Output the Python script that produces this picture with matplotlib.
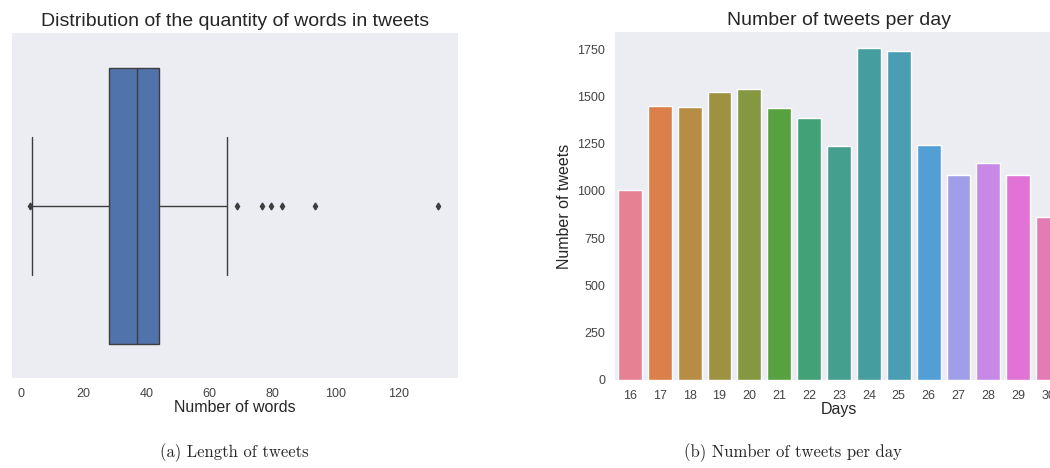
import numpy as np
import matplotlib
matplotlib.use("Agg")
import matplotlib.pyplot as plt
import seaborn as sns

# box plot summary of the number of words per tweet
word_q1 = 28.0
word_median = 36.8
word_q3 = 44.0
word_whislo = 3.4
word_whishi = 65.6
word_fliers = [3.0, 68.7, 76.6, 79.6, 83.0, 93.5, 132.5]

# tweets per day
days = ["16", "17", "18", "19", "20", "21", "22", "23", "24", "25",
        "26", "27", "28", "29", "30"]
tweets_per_day = [1002, 1450, 1441, 1524, 1536, 1439, 1387, 1238, 1753, 1737,
                  1244, 1085, 1150, 1085, 864]

sns.set_style("dark")
plt.rcParams['font.family'] = ['Liberation Sans', 'DejaVu Sans']
plt.rcParams['axes.facecolor'] = '#ececf3'

fig = plt.figure(figsize=(10.5, 4.68), dpi=100)

# left: boxplot
ax1 = fig.add_axes([12/1050., 1-378/468., 446/1050., 345/468.])
stats = [dict(q1=word_q1, med=word_median, q3=word_q3,
              whislo=word_whislo, whishi=word_whishi, fliers=word_fliers)]
blue = sns.desaturate("#4c72b0", 0.9)
ax1.bxp(stats, positions=[0], widths=0.8, vert=False, patch_artist=True,
        capwidths=0.4, showfliers=True,
        boxprops=dict(facecolor=blue, edgecolor='#3d3d3d', linewidth=1),
        medianprops=dict(color='#3d3d3d', linewidth=1),
        whiskerprops=dict(color='#3d3d3d', linewidth=1),
        capprops=dict(color='#3d3d3d', linewidth=1),
        flierprops=dict(marker='d', markersize=3.5, markerfacecolor='#3d3d3d',
                        markeredgecolor='#3d3d3d'))
ax1.set_ylim(0.5, -0.5)
ax1.set_xlim(-2.8, 139)
ax1.set_xticks([0, 20, 40, 60, 80, 100, 120])
ax1.set_yticks([])
ax1.set_xlabel("Number of words", fontsize=11.5, labelpad=0)
ax1.set_title("Distribution of the quantity of words in tweets", fontsize=14, pad=5)
ax1.tick_params(axis='x', labelsize=9, colors='#444444')
for s in ax1.spines.values():
    s.set_visible(False)

# right: bar chart (clipped at figure edge, like the original)
ax2 = fig.add_axes([615/1050., 1-380/468., 448/1050., 348/468.])
pal = sns.color_palette("husl", len(days))
sns.barplot(x=days, y=tweets_per_day, hue=days, palette=pal, legend=False,
            saturation=0.75, ax=ax2)
ax2.set_ylim(0, 1840)
ax2.set_yticks([0, 250, 500, 750, 1000, 1250, 1500, 1750])
ax2.set_xlabel("Days", fontsize=11.5, labelpad=0)
ax2.set_ylabel("Number of tweets", fontsize=11.5)
ax2.set_title("Number of tweets per day", fontsize=14, pad=5)
ax2.tick_params(axis='both', labelsize=9, colors='#444444')
for s in ax2.spines.values():
    s.set_visible(False)

fig.text(234/1050., 1-453/468., "(a) Length of tweets", family='cmr10',
         fontsize=12, ha='center', va='center')
fig.text(793/1050., 1-453/468., "(b) Number of tweets per day", family='cmr10',
         fontsize=12, ha='center', va='center')

fig.savefig("out.png", dpi=100, facecolor='white')
